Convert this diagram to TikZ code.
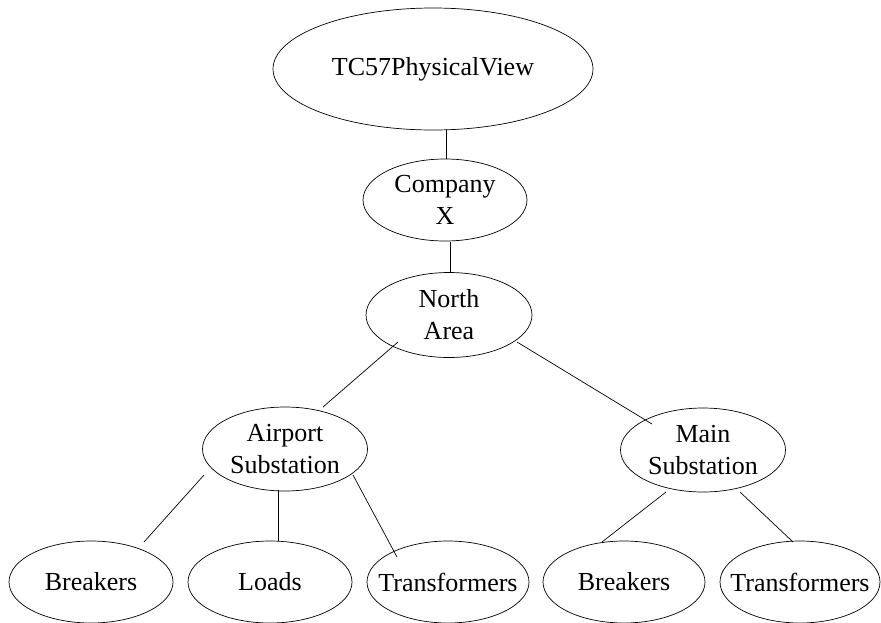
\documentclass[tikz,border=0pt]{standalone}
\usepackage{fontspec}
\setmainfont{Liberation Serif}
\usetikzlibrary{shapes.geometric,calc}
\newcommand\zw[1]{\makebox[0pt]{#1}}
\begin{document}
\begin{tikzpicture}[x=1pt,y=-1pt,
  ov/.style={draw, ellipse, inner sep=0pt, line width=0.7pt, align=center,
    font=\fontsize{26}{32}\selectfont},
  link/.style={draw, line width=0.7pt}]
\useasboundingbox (0,0) rectangle (881,622);
\node[ov, minimum width=320pt, minimum height=122pt] (top) at (433,69) {\zw{TC57PhysicalView}};
\node[ov, minimum width=164pt, minimum height=82pt] (company) at (445,200) {\zw{Company}\\\zw{X}};
\node[ov, minimum width=166pt, minimum height=85pt] (north) at (449,315) {\zw{North}\\\zw{Area}};
\node[ov, minimum width=165pt, minimum height=84pt] (airport) at (285,449) {\zw{Airport}\\\zw{Substation}};
\node[ov, minimum width=165pt, minimum height=84pt] (main) at (703,450) {\zw{Main}\\\zw{Substation}};
\node[ov, minimum width=164pt, minimum height=82pt] (b1) at (91,582) {\zw{Breakers}};
\node[ov, minimum width=164pt, minimum height=82pt] (loads) at (270,582) {\zw{Loads}};
\node[ov, minimum width=162pt, minimum height=82pt] (t1) at (448,582) {\zw{Transformers}};
\node[ov, minimum width=162pt, minimum height=82pt] (b2) at (624,582) {\zw{Breakers}};
\node[ov, minimum width=160pt, minimum height=82pt] (t2) at (800,582) {\zw{Transformers}};
\path[link] ($(top)+(13,61)$) -- ($(company)+(1,-41)$);
\path[link] ($(company)+(5,42)$) -- ($(north)+(1,-42)$);
\path[link] ($(north)+(-51,27)$) -- ($(airport)+(38,-42)$);
\path[link] ($(north)+(68,27)$) -- ($(main)+(-51,-26)$);
\path[link] ($(airport)+(-81,26)$) -- ($(b1)+(53,-40)$);
\path[link] ($(airport)+(-7,41)$) -- ($(loads)+(8,-41)$);
\path[link] ($(airport)+(68,26)$) -- ($(t1)+(-51,-25)$);
\path[link] ($(main)+(-37,42)$) -- ($(b2)+(-22,-40)$);
\path[link] ($(main)+(37,42)$) -- ($(t2)+(-7,-40)$);
\end{tikzpicture}
\end{document}
